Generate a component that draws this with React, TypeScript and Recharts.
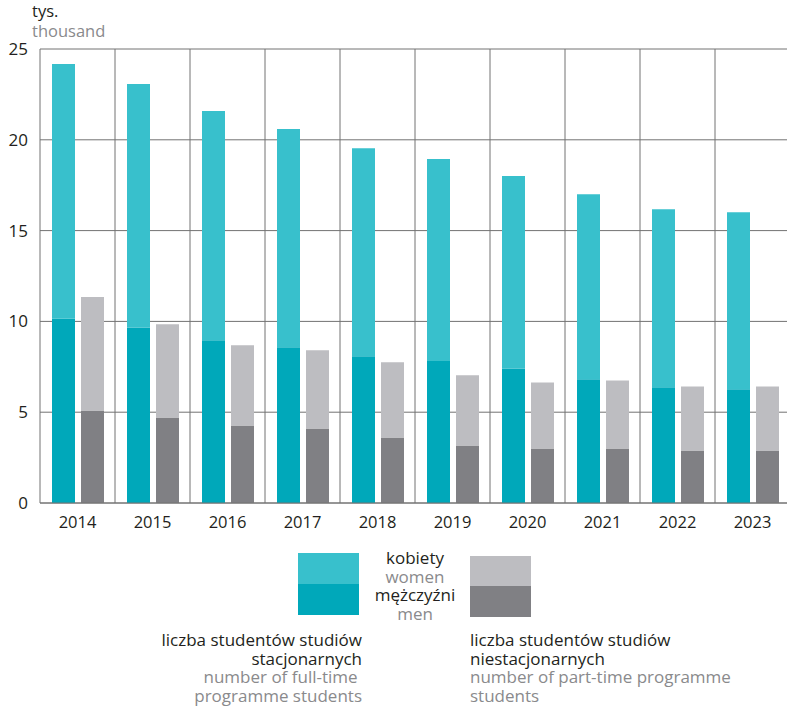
import { BarChart, Bar, XAxis, YAxis, CartesianGrid } from 'recharts';

const years = ['2014', '2015', '2016', '2017', '2018', '2019', '2020', '2021', '2022', '2023'];
// full-time (stacjonarne), thousands
const fullTimeMen = [10.15, 9.67, 8.96, 8.57, 8.08, 7.82, 7.41, 6.81, 6.37, 6.26];
const fullTimeWomen = [14.02, 13.4, 12.62, 12.02, 11.46, 11.12, 10.59, 10.19, 9.81, 9.75];
// part-time (niestacjonarne), thousands
const partTimeMen = [5.1, 4.71, 4.27, 4.1, 3.61, 3.17, 3.0, 3.0, 2.89, 2.89];
const partTimeWomen = [6.25, 5.13, 4.41, 4.31, 4.14, 3.86, 3.64, 3.75, 3.53, 3.53];
const yTicks = [0, 5, 10, 15, 20, 25];

const data = years.map((year, i) => ({
    year,
    ftMen: fullTimeMen[i],
    ftWomen: fullTimeWomen[i],
    ptMen: partTimeMen[i],
    ptWomen: partTimeWomen[i],
}));

const FONT = '"Open Sans", sans-serif';
const DARK = '#231f20';
const GREY = '#8a8a8c';
const GRID = '#727272';

const colors = {
    ftWomen: '#38c0cc',
    ftMen: '#00a8ba',
    ptWomen: '#bdbdc1',
    ptMen: '#808084',
};

const abs = (left: number, top: number, extra: React.CSSProperties = {}): React.CSSProperties => ({
    position: 'absolute',
    left,
    top,
    ...extra,
});

export default function App() {
    return (
        <>
            <style>{'html, body { margin: 0; padding: 0; overflow: hidden; }'}</style>
            <div style={{ width: 787, height: 708, position: 'relative', fontFamily: FONT, background: '#fff' }}>
                <div style={abs(32, 2, { fontSize: 16.5, lineHeight: '18px', color: DARK })}>tys.</div>
                <div style={abs(32, 22, { fontSize: 16.5, lineHeight: '18px', color: GREY })}>thousand</div>

                {/* plot runs to x=790, clipped at the window edge */}
                <div style={abs(0, 0, { width: 787, height: 533, overflow: 'hidden' })}>
                    <BarChart
                        width={800}
                        height={533}
                        data={data}
                        margin={{ top: 49, right: 10, left: 0, bottom: 0 }}
                        barSize={23}
                        barGap={6}
                    >
                        <CartesianGrid
                            stroke={GRID}
                            strokeWidth={1}
                            verticalCoordinatesGenerator={({ offset }: any) =>
                                years.concat(['end']).map((_, i) => offset.left + (offset.width * i) / years.length)
                            }
                        />
                        <XAxis
                            dataKey="year"
                            axisLine={{ stroke: GRID }}
                            tickLine={false}
                            tickSize={0}
                            tickMargin={13}
                            height={30}
                            tick={{ fill: DARK, fontSize: 16.5, fontFamily: FONT }}
                        />
                        <YAxis
                            domain={[0, 25]}
                            ticks={yTicks}
                            axisLine={false}
                            tickLine={false}
                            tickSize={0}
                            tickMargin={12}
                            width={40}
                            tick={{ fill: DARK, fontSize: 17, fontFamily: FONT }}
                        />
                        <Bar dataKey="ftMen" stackId="ft" fill={colors.ftMen} isAnimationActive={false} />
                        <Bar dataKey="ftWomen" stackId="ft" fill={colors.ftWomen} isAnimationActive={false} />
                        <Bar dataKey="ptMen" stackId="pt" fill={colors.ptMen} isAnimationActive={false} />
                        <Bar dataKey="ptWomen" stackId="pt" fill={colors.ptWomen} isAnimationActive={false} />
                    </BarChart>
                </div>

                {/* legend */}
                <div style={abs(298, 553, { width: 61, height: 31, background: colors.ftWomen })} />
                <div style={abs(298, 584, { width: 61, height: 31, background: colors.ftMen })} />
                <div style={abs(470, 556, { width: 61, height: 30, background: colors.ptWomen })} />
                <div style={abs(470, 586, { width: 61, height: 31, background: colors.ptMen })} />

                <div style={abs(355, 549, { width: 120, textAlign: 'center', fontSize: 17, lineHeight: '18.5px' })}>
                    <div style={{ color: DARK }}>kobiety</div>
                    <div style={{ color: GREY }}>women</div>
                    <div style={{ color: DARK }}>mężczyźni</div>
                    <div style={{ color: GREY }}>men</div>
                </div>

                <div style={abs(80, 631, { width: 282, textAlign: 'right', fontSize: 17, lineHeight: '18.7px' })}>
                    <div style={{ color: DARK }}>liczba studentów studiów</div>
                    <div style={{ color: DARK }}>stacjonarnych</div>
                    <div style={{ color: GREY }}>number of full-time&nbsp;</div>
                    <div style={{ color: GREY }}>programme students</div>
                </div>

                <div style={abs(470, 631, { width: 310, textAlign: 'left', fontSize: 17, lineHeight: '18.7px' })}>
                    <div style={{ color: DARK }}>liczba studentów studiów</div>
                    <div style={{ color: DARK }}>niestacjonarnych</div>
                    <div style={{ color: GREY }}>number of part-time programme</div>
                    <div style={{ color: GREY }}>students</div>
                </div>
            </div>
        </>
    );
}
